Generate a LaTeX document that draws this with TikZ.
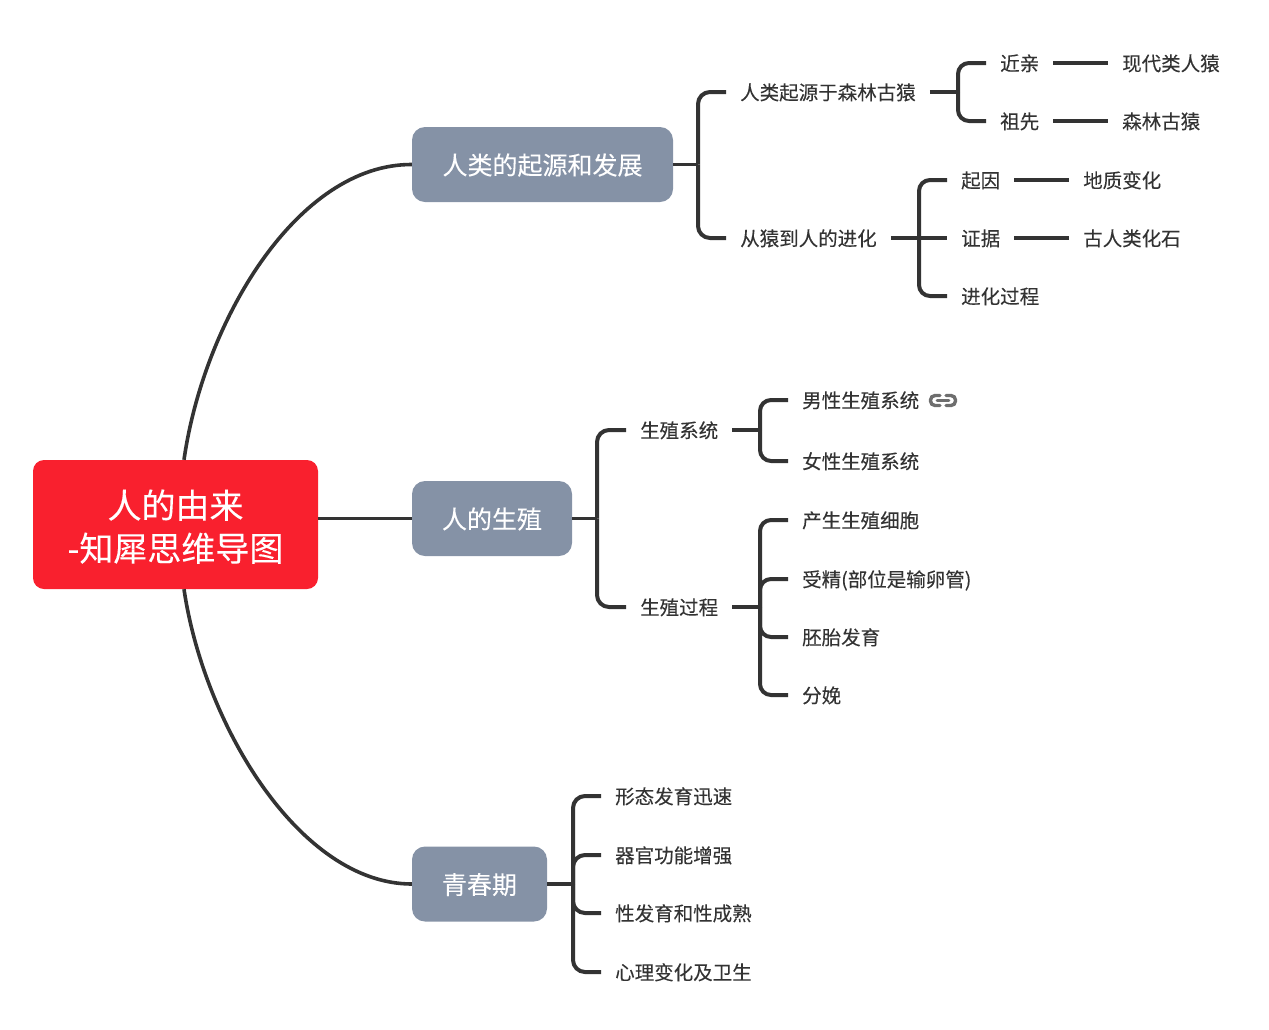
\documentclass[tikz,border=0pt]{standalone}
\usepackage{fontspec}
\setmainfont{Noto Sans CJK SC}[FakeBold=0.12]
\definecolor{ink}{HTML}{333333}
\definecolor{rootred}{HTML}{F9202E}
\definecolor{mainslate}{HTML}{8592A6}
\definecolor{chain}{HTML}{6E6E6E}
\tikzset{
  leaf/.style={anchor=west,inner xsep=14pt,inner ysep=0pt,text=ink,font=\fontsize{19.5}{24}\selectfont,text height=18pt,text depth=2.5pt},
  mainbox/.style={fill=mainslate,rounded corners=13pt,text=white,inner sep=0pt,font=\fontsize{25}{30}\selectfont,minimum height=75pt,text height=22pt,text depth=2pt},
  rootbox/.style={fill=rootred,rounded corners=11pt,text=white,inner sep=0pt,font=\fontsize{34}{43}\selectfont,align=center,minimum width=285pt,minimum height=129pt},
  link/.style={draw=ink,line width=4pt},
  bracket/.style={draw=ink,line width=4pt,rounded corners=11pt},
  thinlink/.style={draw=ink,line width=3.6pt},
  thinbracket/.style={draw=ink,line width=4pt,rounded corners=12pt}
}
\begin{document}
\begin{tikzpicture}[x=1pt,y=-1pt]
\useasboundingbox (0,0) rectangle (1269,1029);
% nodes
\node[rootbox] (root) at (175.5,524.5) {\rule{0pt}{33pt}人的由来\\-知犀思维导图};
\node[mainbox,minimum width=261pt] (A) at (542.5,164.5) {人类的起源和发展};
\node[mainbox,minimum width=160pt] (B) at (492,518.5) {人的生殖};
\node[mainbox,minimum width=135pt] (C) at (479.5,884) {青春期};
% A
\node[leaf] (a1) at (726,92) {人类起源于森林古猿};
\node[leaf] (a2) at (726,238) {从猿到人的进化};
\node[leaf] (a11) at (986,63) {近亲};
\node[leaf] (a12) at (986,121) {祖先};
\node[leaf] (a111) at (1108,63) {现代类人猿};
\node[leaf] (a121) at (1108,121) {森林古猿};
\node[leaf] (a21) at (947,180) {起因};
\node[leaf] (a22) at (947,238) {证据};
\node[leaf] (a23) at (947,296) {进化过程};
\node[leaf] (a211) at (1069,180) {地质变化};
\node[leaf] (a221) at (1069,238) {古人类化石};
% B
\node[leaf] (b1) at (626,430) {生殖系统};
\node[leaf] (b2) at (626,607) {生殖过程};
\node[leaf] (b11) at (788,400) {男性生殖系统};
\node[leaf] (b12) at (788,461) {女性生殖系统};
\node[leaf] (b21) at (788,520) {产生生殖细胞};
\node[leaf] (b22) at (788,579) {受精(部位是输卵管)};
\node[leaf] (b23) at (788,637) {胚胎发育};
\node[leaf] (b24) at (788,695) {分娩};
% C
\node[leaf] (c1) at (601,796) {形态发育迅速};
\node[leaf] (c2) at (601,855) {器官功能增强};
\node[leaf] (c3) at (601,913) {性发育和性成熟};
\node[leaf] (c4) at (601,972) {心理变化及卫生};
% trunks
\coordinate (tA) at (698,0);
\coordinate (tB) at (597,0);
\coordinate (tC) at (573,0);
\coordinate (ta1) at (958,0);
\coordinate (ta2) at (919,0);
\coordinate (tb1) at (760,0);
\coordinate (tb2) at (760,0);
% root links
\draw[thinlink] ([xshift=8.5pt]root.north) .. controls (204,320) and (298,164) .. (A.west);
\draw[thinlink] ([xshift=8.5pt]root.south) .. controls (204,725) and (300,884) .. (C.west);
\draw[thinlink] (root.east |- B.west) -- (B.west);
% A links
\draw[thinlink] (A.east) -- (A.east -| tA);
\draw[thinbracket] (A.east -| tA) |- (a1.west);
\draw[thinbracket] (A.east -| tA) |- (a2.west);
\draw[link] (a1.east) -- (a1.east -| ta1);
\draw[bracket] (a1.east -| ta1) |- (a11.west);
\draw[bracket] (a1.east -| ta1) |- (a12.west);
\draw[link] (a11.east) -- (a111.west);
\draw[link] (a12.east) -- (a121.west);
\draw[link] (a2.east) -- (a22.west);
\draw[bracket] (a2.east -| ta2) |- (a21.west);
\draw[bracket] (a2.east -| ta2) |- (a23.west);
\draw[link] (a21.east) -- (a211.west);
\draw[link] (a22.east) -- (a221.west);
% B links
\draw[thinlink] (B.east) -- (B.east -| tB);
\draw[thinbracket] (B.east -| tB) |- (b1.west);
\draw[thinbracket] (B.east -| tB) |- (b2.west);
\draw[link] (b1.east) -- (b1.east -| tb1);
\draw[bracket] (b1.east -| tb1) |- (b11.west);
\draw[bracket] (b1.east -| tb1) |- (b12.west);
\draw[link] (b2.east) -- (b2.east -| tb2);
\draw[bracket] (b2.east -| tb2) |- (b21.west);
\draw[bracket] (b2.east -| tb2) |- (b22.west);
\draw[bracket] (b2.east -| tb2) |- (b23.west);
\draw[bracket] (b2.east -| tb2) |- (b24.west);
% C links
\draw[thinlink] (C.east) -- (C.east -| tC);
\draw[thinbracket] (C.east -| tC) |- (c1.west);
\draw[thinbracket] (C.east -| tC) |- (c2.west);
\draw[thinbracket] (C.east -| tC) |- (c3.west);
\draw[thinbracket] (C.east -| tC) |- (c4.west);
% chain icon
\draw[chain,line width=3.4pt,line cap=round,rounded corners=4.5pt] (940,395.5) -- (930.5,395.5) -- (930.5,405.5) -- (940,405.5);
\draw[chain,line width=3.4pt,line cap=round,rounded corners=4.5pt] (946,395.5) -- (955.5,395.5) -- (955.5,405.5) -- (946,405.5);
\draw[chain,line width=2.8pt,line cap=round] (937,400.5) -- (949,400.5);
\end{tikzpicture}
\end{document}
